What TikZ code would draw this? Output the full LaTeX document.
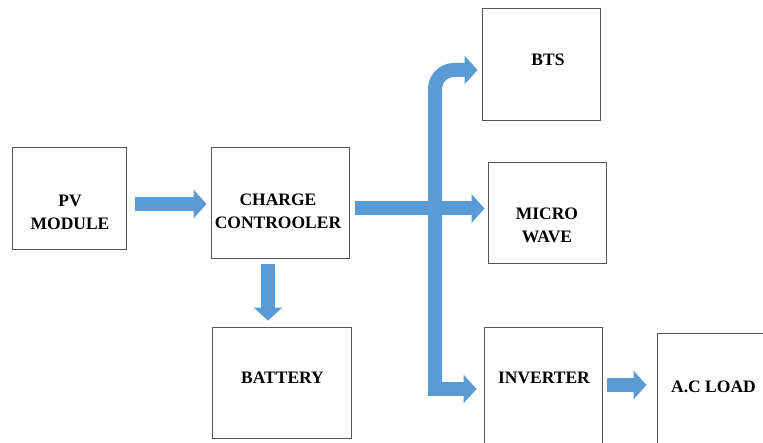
\documentclass[tikz,border=0pt]{standalone}
\usepackage{fontspec}
\setmainfont{Liberation Serif}
\usepackage{tikz}
\usetikzlibrary{arrows.meta,calc}
\definecolor{flowblue}{HTML}{5B9BD5}
\definecolor{boxgray}{HTML}{555555}
\tikzset{
  blkbox/.style={draw=boxgray, fill=white, line width=0.9pt, inner sep=0pt},
  lbltxt/.style={align=center, inner sep=0pt, font=\fontsize{17.5}{23}\selectfont\bfseries},
  flowarrow/.style={-{Triangle[length=13pt, width=28pt]}, line width=14pt, draw=flowblue}
}
\begin{document}
\begin{tikzpicture}[x=1pt, y=-1pt]
  \clip (0,0) rectangle (763,443);
  % blocks
  \node[blkbox, minimum width=114pt, minimum height=102pt] (pv) at (69,198) {};
  \node[blkbox, minimum width=138pt, minimum height=111pt] (cc) at (280,202.5) {};
  \node[blkbox, minimum width=139pt, minimum height=111pt] (bat) at (281.5,382.5) {};
  \node[blkbox, minimum width=118pt, minimum height=112pt] (bts) at (541,64) {};
  \node[blkbox, minimum width=118pt, minimum height=101pt] (mw) at (547,212.5) {};
  \node[blkbox, minimum width=118pt, minimum height=143pt] (inv) at (543,398.5) {};
  \node[blkbox, minimum width=143pt, minimum height=137pt] (acl) at (728.5,401.5) {};
  % labels
  \node[lbltxt] (pvtxt) at (70,212) {PV\\MODULE};
  \node[lbltxt] (cctxt) at (278,211) {CHARGE\\CONTROOLER};
  \node[lbltxt] (battxt) at (282.5,378) {BATTERY};
  \node[lbltxt] (btstxt) at (548,60) {BTS};
  \node[lbltxt] (mwtxt) at (547,225) {MICRO\\WAVE};
  \node[lbltxt] (invtxt) at (544,378) {INVERTER};
  \node[lbltxt] (acltxt) at (713.5,387) {A.C LOAD};
  % arrows
  \coordinate (jn) at (435,396);
  \draw[flowarrow] ($(pv.east)+(9,6)$) -- ($(cc.west)+(-4,1.5)$);
  \draw[flowarrow] ($(cc.south)+(-12,6)$) -- ($(bat.north)+(-13.5,-6)$);
  \draw[flowarrow] ($(cc.east)+(6,6)$) -- ($(mw.west)+(-3,-4)$);
  \draw[flowarrow, rounded corners=19pt] (jn) |- ($(bts.west)+(-4,6)$);
  \draw[flowarrow] ($(jn)+(-7,-7)$) -- ($(inv.west)+(-7,-9.5)$);
  \draw[flowarrow] ($(inv.east)+(5,-13.5)$) -- ($(acl.west)+(-10,-16.5)$);
\end{tikzpicture}
\end{document}
